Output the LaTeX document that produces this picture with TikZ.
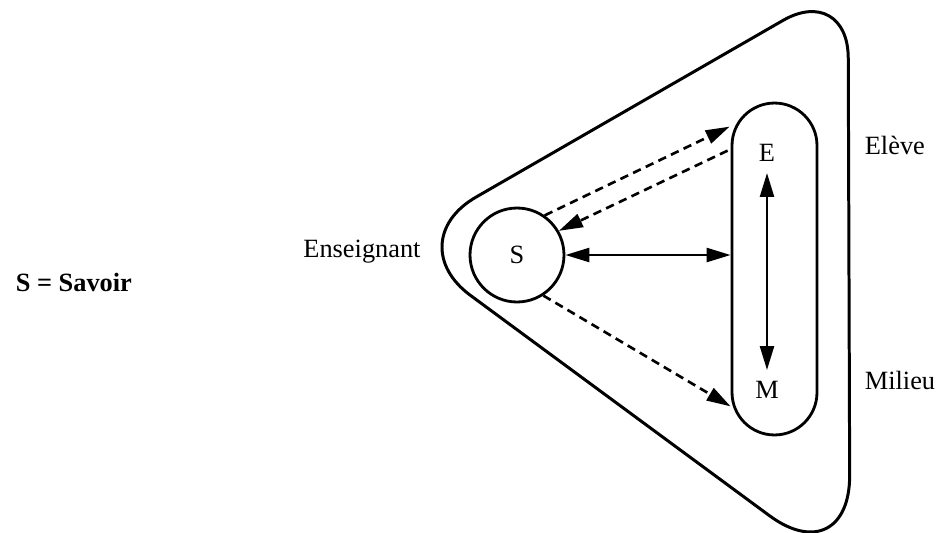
\documentclass[tikz,border=0pt]{standalone}
\usepackage{fontspec}
\setmainfont{Liberation Serif}
\usetikzlibrary{calc, arrows.meta, positioning}

\begin{document}
\begin{tikzpicture}[
    x=0.02cm, y=-0.02cm,
    >={Triangle[length=4.8mm, width=2.8mm]},
    txt/.style={font=\fontsize{15}{18}\selectfont, inner sep=2pt},
    pole/.style={circle, draw=black, line width=1.6pt, minimum size=1.88cm, inner sep=0pt, font=\fontsize{15}{18}\selectfont},
    capsule/.style={rectangle, draw=black, line width=1.6pt, rounded corners=8.5mm, minimum width=1.7cm, minimum height=6.64cm},
    envelope/.style={draw=black, line width=1.7pt},
    line/.style={draw=black, line width=1.4pt, <->},
    dashedline/.style={draw=black, line width=1.5pt, dash pattern=on 1.7mm off 1.1mm, ->}
]
    \useasboundingbox (0,0) rectangle (940,532);

    % Triangle enveloppe
    \coordinate (rmid) at (849,280);
    \coordinate (br) at (850,575);
    \coordinate (lt) at (398,242);
    \coordinate (tr) at (848,-17);
    \draw [envelope] (rmid) [rounded corners=20mm] -- (br) [rounded corners=18mm] -- (lt) [rounded corners=15mm] -- (tr) -- cycle;

    % Savoir et bloc E/M
    \node [pole] (savoir) at (517,255) {S};
    \node [capsule] (em) at (774.5,269) {};
    \node [txt] (eleve) at (767,153) {E};
    \node [txt] (milieu) at (767,390) {M};

    % Etiquettes
    \node [txt, anchor=west, font=\fontsize{15}{18}\selectfont\bfseries] (legende) at (12,282) {S = Savoir};
    \node [txt] (enseignant) at (362,252) {Enseignant};
    \node [txt, anchor=west] (lbleleve) at (861,145) {Elève};
    \node [txt, anchor=west] (lblmilieu) at (861,380) {Milieu};

    % Liaisons
    \draw [line] (savoir.east) -- (savoir.east -| em.west);
    \draw [line, shorten <=1.5mm, shorten >=1.5mm] (eleve.south) -- (milieu.north);

    \draw [dashedline] (savoir.55) -- ($(em.north west)+(-1,25)$);
    \draw [dashedline] ($(em.north west)+(-3,49)$) -- (savoir.30);
    \draw [dashedline] (savoir.-57) -- ($(em.south west)+(0,-30)$);

\end{tikzpicture}
\end{document}
